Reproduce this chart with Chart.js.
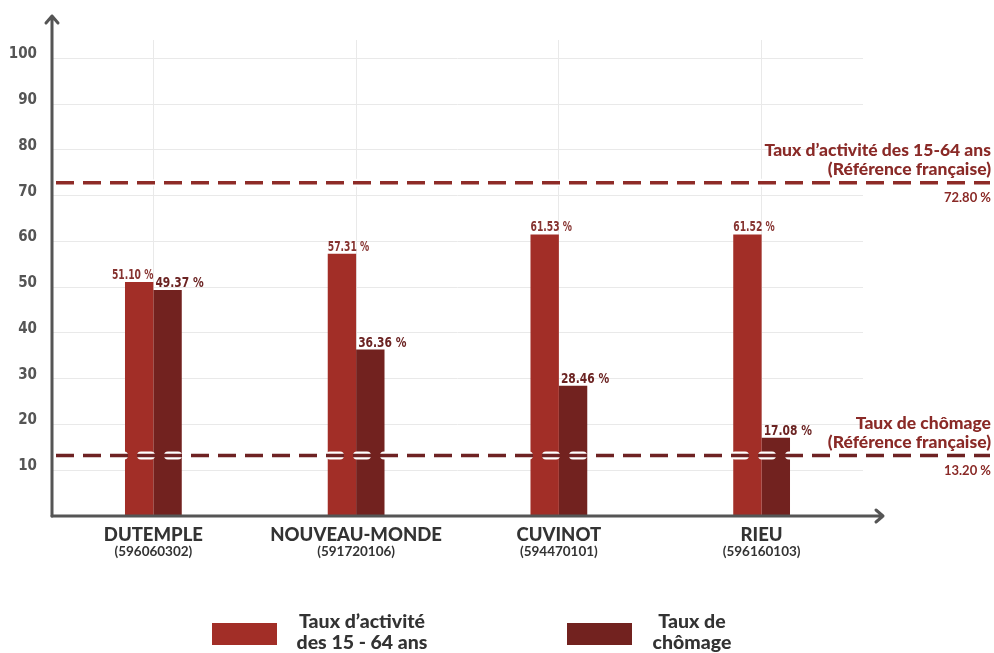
<!DOCTYPE html>
<html>
<head>
<meta charset="utf-8">
<script src="https://cdn.jsdelivr.net/npm/chart.js@4.4.0/dist/chart.umd.min.js"></script>
<style>
  html, body { margin: 0; padding: 0; background: #fff; }
  #wrap { width: 994px; height: 653px; }
</style>
</head>
<body>
<div id="wrap"><canvas id="chart" width="994" height="653"></canvas></div>
<script>
// Data
const categories = ["DUTEMPLE", "NOUVEAU-MONDE", "CUVINOT", "RIEU"]
const codes = ["(596060302)", "(591720106)", "(594470101)", "(596160103)"]
const tauxActivite = [51.10, 57.31, 61.53, 61.52]
const tauxChomage = [49.37, 36.36, 28.46, 17.08]
const yTicks = [10, 20, 30, 40, 50, 60, 70, 80, 90, 100]
const refActivite = 72.80
const refChomage = 13.20
const seriesNames = [["Taux d’activité", "des 15 - 64 ans"], ["Taux de", "chômage"]]
const refNames = [["Taux d’activité des 15-64 ans", "(Référence française)"], ["Taux de chômage", "(Référence française)"]]

const RED = "#a22e27"
const DARK = "#72221f"
const NUM_FONT = "'DejaVu Sans Condensed', 'DejaVu Sans', sans-serif"
const TXT_FONT = "Lato, 'Open Sans', sans-serif"

const fmt = (v) => v.toFixed(2) + " %"

// narrow text: draw squeezed horizontally
function narrowText(ctx, text, x, y, align, squeeze) {
  ctx.save()
  ctx.translate(x, y)
  ctx.scale(squeeze, 1)
  ctx.textAlign = align
  ctx.fillText(text, 0, 0)
  ctx.restore()
}

// Reference lines, value labels, axes arrows, category labels and legend
const decorPlugin = {
  id: "decor",
  afterDatasetsDraw(chart) {
    const ctx = chart.ctx
    const y = chart.scales.y
    const area = chart.chartArea

    // value labels
    const m0 = chart.getDatasetMeta(0)
    const m1 = chart.getDatasetMeta(1)
    ctx.save()
    ctx.textBaseline = "alphabetic"
    m0.data.forEach((bar, i) => {
      ctx.font = "bold 14px " + NUM_FONT
      ctx.fillStyle = "#863330"
      const close = Math.abs(tauxActivite[i] - tauxChomage[i]) < 4
      if (close) {
        narrowText(ctx, fmt(tauxActivite[i]), bar.x + bar.width / 2, bar.y - 3, "right", 0.73)
      } else {
        narrowText(ctx, fmt(tauxActivite[i]), bar.x - bar.width / 2, bar.y - 3, "left", 0.73)
      }
      const b1 = m1.data[i]
      ctx.font = "bold 14.5px " + NUM_FONT
      ctx.fillStyle = "#6b2322"
      narrowText(ctx, fmt(tauxChomage[i]), b1.x - b1.width / 2 + 2, b1.y - 3, "left", 0.82)
    })
    ctx.restore()

    // reference lines
    const refs = [
      { value: refActivite, color: "#8e2b27", names: refNames[0] },
      { value: refChomage, color: "#6e2223", names: refNames[1] },
    ]
    refs.forEach((r) => {
      const py = y.getPixelForValue(r.value)
      ctx.save()
      ctx.beginPath()
      ctx.moveTo(area.left + 4, py)
      ctx.lineTo(990, py)
      ctx.strokeStyle = "#ffffff"
      ctx.lineWidth = 8
      ctx.lineCap = "round"
      ctx.setLineDash([10, 17])
      ctx.lineDashOffset = -4
      ctx.stroke()
      ctx.beginPath()
      ctx.moveTo(area.left + 4, py)
      ctx.lineTo(990, py)
      ctx.strokeStyle = r.color
      ctx.lineWidth = 3.5
      ctx.lineCap = "butt"
      ctx.setLineDash([18, 9])
      ctx.lineDashOffset = 0
      ctx.stroke()
      ctx.setLineDash([])
      ctx.fillStyle = "#8a2a27"
      ctx.textAlign = "right"
      ctx.textBaseline = "middle"
      ctx.font = "900 17.5px " + TXT_FONT
      ctx.fillText(r.names[0], 991, py - 32)
      ctx.fillText(r.names[1], 991, py - 13)
      ctx.font = "bold 13px " + TXT_FONT
      ctx.fillText(fmt(r.value), 991, py + 15)
      ctx.restore()
    })
  },
  afterDraw(chart) {
    const ctx = chart.ctx
    const x = chart.scales.x
    const area = chart.chartArea
    ctx.save()
    // axes with arrows
    ctx.strokeStyle = "#555555"
    ctx.lineWidth = 3
    ctx.lineCap = "round"
    ctx.lineJoin = "round"
    ctx.beginPath()
    ctx.moveTo(area.left, area.bottom)
    ctx.lineTo(area.left, 16)
    ctx.moveTo(area.left - 6, 23)
    ctx.lineTo(area.left, 16)
    ctx.lineTo(area.left + 6, 23)
    ctx.stroke()
    ctx.beginPath()
    ctx.moveTo(area.left, area.bottom)
    ctx.lineTo(883, area.bottom)
    ctx.moveTo(876, area.bottom - 6)
    ctx.lineTo(883, area.bottom)
    ctx.lineTo(876, area.bottom + 6)
    ctx.stroke()

    // category labels
    ctx.textAlign = "center"
    ctx.textBaseline = "middle"
    ctx.fillStyle = "#333333"
    categories.forEach((c, i) => {
      const px = x.getPixelForValue(i)
      ctx.font = "900 18.5px " + TXT_FONT
      ctx.fillText(c, px, 535)
      ctx.font = "bold 13.5px " + TXT_FONT
      ctx.fillText(codes[i], px, 552)
    })

    // legend
    const items = [
      { color: RED, names: seriesNames[0], box: 212, text: 362 },
      { color: DARK, names: seriesNames[1], box: 567, text: 692 },
    ]
    items.forEach((it) => {
      ctx.fillStyle = it.color
      ctx.fillRect(it.box, 623, 65, 22)
      ctx.fillStyle = "#333333"
      ctx.font = "900 19.5px " + TXT_FONT
      ctx.fillText(it.names[0], it.text, 622)
      ctx.fillText(it.names[1], it.text, 643)
    })
    ctx.restore()
  },
}

new Chart(document.getElementById("chart"), {
  type: "bar",
  data: {
    labels: categories,
    datasets: [
      {
        label: "Taux d’activité des 15 - 64 ans",
        data: tauxActivite,
        backgroundColor: RED,
        categoryPercentage: 0.28,
        barPercentage: 1,
      },
      {
        label: "Taux de chômage",
        data: tauxChomage,
        backgroundColor: DARK,
        categoryPercentage: 0.28,
        barPercentage: 1,
      },
    ],
  },
  options: {
    responsive: false,
    animation: false,
    layout: { padding: { top: 40, right: 131, left: 0, bottom: 0 } },
    plugins: {
      legend: { display: false },
      tooltip: { enabled: false },
    },
    scales: {
      x: {
        grid: { offset: false, color: "#e9e9e9", drawTicks: false },
        border: { display: false },
        ticks: { display: false },
        afterFit: (s) => { s.height = 137 },
      },
      y: {
        min: 0,
        max: 104,
        afterBuildTicks: (s) => { s.ticks = yTicks.map((v) => ({ value: v })) },
        grid: { color: "#e9e9e9", drawTicks: false },
        border: { display: false },
        ticks: {
          color: "#555555",
          padding: 15,
          labelOffset: -4,
          font: { family: NUM_FONT, size: 15, weight: "bold" },
        },
        afterFit: (s) => { s.width = 52 },
      },
    },
  },
  plugins: [decorPlugin],
})
</script>
</body>
</html>
